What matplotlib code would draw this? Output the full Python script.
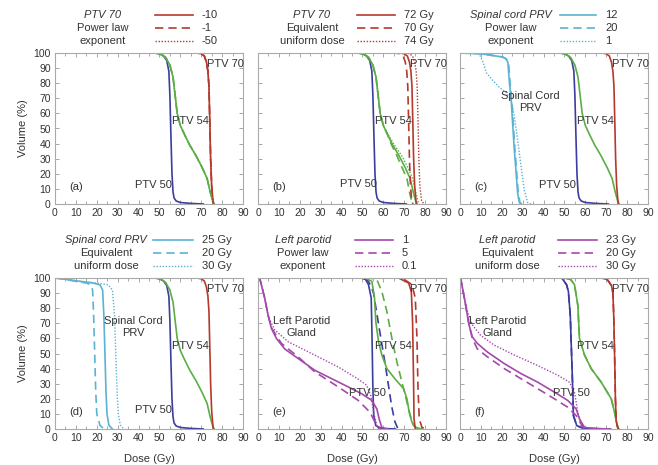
import matplotlib.pyplot as plt
from matplotlib.lines import Line2D

plt.rcParams['font.family'] = ['Liberation Sans', 'DejaVu Sans']

RED = '#b5392c'
GREEN = '#5cad45'
BLUE = '#3b3e9f'
CYAN = '#5ab3d2'
MAGENTA = '#a449ab'
TXT = '#333333'

# ---------------- data (dose in Gy, volume in %) ----------------
# base target curves (panels a-d)
ptv50_dose = [0, 48, 50, 52, 53.5, 54.5, 55, 55.5, 56, 56.5, 57, 58, 60, 65, 71]
ptv50_vol = [100, 100, 99.5, 98, 95, 88, 72, 45, 20, 8, 4, 2, 1, 0.4, 0]

ptv54_dose = [0, 48, 51, 53, 55, 56.5, 57.5, 58.5, 60, 62, 64.5, 67.5, 70.5, 72.8, 74.3, 75.5, 76]
ptv54_vol = [100, 100, 99, 97, 92, 84, 72, 60, 52, 46, 39, 32, 24, 17, 8, 2, 0]

ptv70_dose = [0, 68, 70, 71.5, 72.5, 73.2, 73.7, 74.1, 74.5, 75, 75.6, 76]
ptv70_vol = [100, 100, 99.5, 98, 94, 88, 78, 55, 30, 12, 2, 0]

# panel b: PTV 70 EUD 72 / 70 / 74 Gy
ptv70_b70_dose = [0, 66, 68, 69.5, 70.5, 71.2, 71.7, 72.1, 72.5, 73, 73.6, 74.2]
ptv70_b74_dose = [0, 70.5, 72.5, 74, 75, 75.7, 76.2, 76.6, 77, 77.5, 78.3, 79.5]
ptv54_b70_dose = [0, 48, 51, 53, 55, 56.5, 57.5, 58.5, 60, 62, 64, 66.5, 69, 71.3, 72.5, 73.5, 74.5]
ptv54_b74_dose = [0, 48, 51, 53, 55, 56.5, 57.5, 58.5, 60, 62.3, 65.3, 68.8, 71.8, 74, 75.5, 76.5, 77]

# panel c: spinal cord PRV, power law exponent 12 / 20 / 1
cord_c_vol = [100, 99.5, 98.5, 97.3, 96, 94, 80, 69, 51, 36, 20, 7, 1, 0]
cord_c12_dose = [0, 10, 15, 20.5, 22, 22.9, 23.7, 24.5, 25.3, 26, 26.9, 27.6, 28.4, 29.2]
cord_c20_dose = [0, 10, 15, 20.5, 22.3, 23.2, 24, 24.8, 25.6, 26.3, 27.2, 27.9, 28.7, 29.5]
cord_c1_dose = [0, 9, 11, 12.6, 15.8, 19, 22, 24.5, 26, 27.6, 29.2, 30.8, 32.4, 34]
cord_c1_vol = [100, 100, 94, 87, 81.7, 77, 74, 69, 58, 42.5, 25, 9, 1, 0]

# panel d: spinal cord PRV, EUD 25 / 20 / 30 Gy
cord_d_vol = [100, 99.3, 97.8, 96.7, 95.5, 92, 75, 50, 25, 10, 2.5, 0]
cord_d25_dose = [0, 4, 12, 18, 21.5, 22.8, 23.4, 23.9, 24.4, 24.9, 25.8, 27.5]
cord_d20_dose = [0, 4, 10, 15, 17, 18, 18.5, 19, 19.5, 20, 21.5, 23.5]
cord_d30_dose = [0, 5, 12, 20, 25.5, 27.5, 28.5, 29.1, 29.7, 30.3, 31.3, 33]

# panel e: left parotid, power law exponent 1 / 5 / 0.1
ptv50_e1_dose = [0, 49.5, 51.5, 52.9, 54.2, 54.6, 55, 55.4, 56.4, 59.3, 65.7]
ptv50_e1_vol = [100, 100, 99, 95.6, 86.7, 60, 26.7, 8.9, 2.2, 0.4, 0]
ptv50_e5_dose = [0, 50, 52.5, 54, 55.3, 58, 61, 64, 65.5, 67]
ptv50_e5_vol = [100, 100, 98.5, 95, 90, 67, 42, 15, 5, 0]
ptv54_e1_dose = [0, 51.3, 54.5, 55.8, 56.4, 57.7, 59.3, 61.7, 65.7, 69.7, 71.3, 72.4, 73.7, 75.3, 78.5]
ptv54_e1_vol = [100, 100, 97.8, 86.7, 71, 57.8, 49, 40, 33, 26.7, 20, 11, 4.4, 1, 0]
ptv54_e5_dose = [0, 53.5, 56.9, 59.3, 61.7, 64.1, 66.5, 68.9, 71.3, 72.9, 74.5, 76.9]
ptv54_e5_vol = [100, 100, 98.9, 91, 77.8, 60, 44.4, 31, 17.8, 8.9, 2.2, 0]
ptv70_e1_dose = [0, 67.3, 72.1, 73.4, 74, 74.4, 74.7, 75.3]
ptv70_e1_vol = [100, 100, 96.7, 91, 71, 38, 6.7, 0]
ptv70_e5_dose = [0, 69, 73.7, 75.3, 76.1, 76.6, 77.2, 78.5, 80.9]
ptv70_e5_vol = [100, 100, 95.6, 86.7, 60, 26.7, 6.7, 1, 0]
parotid_e1_dose = [0, 0.8, 3.2, 4.8, 6.4, 8.8, 12.8, 19.2, 27.2, 35.3, 43.3, 49.7, 54.5, 56.9, 58, 59.3, 62]
parotid_e1_vol = [100, 100, 86.7, 75.6, 66.7, 60, 53, 46.7, 38.9, 33.3, 27.8, 23.3, 18.9, 13.3, 6.7, 1, 0]
parotid_e5_dose = [0, 0.8, 3.2, 4.8, 6.4, 11.2, 19.2, 27.2, 38.5, 48, 53.7, 56, 57.7, 59]
parotid_e5_vol = [100, 100, 86.7, 75.6, 67, 56.7, 47.8, 37.8, 27.8, 18.9, 11, 4.4, 0.5, 0]
parotid_e01_dose = [0, 0.8, 3, 5, 8, 14.4, 27.2, 38.5, 48, 52, 54, 55.5, 57, 58.5]
parotid_e01_vol = [100, 100, 88, 74, 65.6, 57.8, 48.9, 41, 33, 29, 22, 10, 2, 0]

# panel f: left parotid, EUD 23 / 20 / 30 Gy
ptv50_f_dose = [0, 48.7, 51, 51.9, 52.8, 53.4, 54, 54.3, 55.9, 59, 65, 72]
ptv50_f_vol = [100, 100, 95.6, 91, 75, 50, 25, 8.9, 2.2, 0.5, 0.2, 0]
ptv54_f_dose = [0, 50, 53, 54.8, 56.4, 57.2, 59.6, 62.8, 67.6, 72.4, 74, 75.3, 75.8]
ptv54_f_vol = [100, 100, 99, 95.6, 82, 60, 49, 40, 31, 20, 11, 2.2, 0]
ptv70_f_dose = [0, 67.6, 70.5, 72.5, 73.2, 73.6, 74, 74.4, 74.8, 75.5, 76]
ptv70_f_vol = [100, 100, 99, 95, 90, 75, 50, 20, 5, 1, 0]
parotid_f23_dose = [0, 0.3, 2.7, 4.3, 5.9, 8.3, 13.1, 21.2, 29.2, 37.2, 45.2, 51.6, 55.6, 57.2, 59.6, 65, 72]
parotid_f23_vol = [100, 100, 82, 69, 61, 56.7, 51, 43.3, 36.7, 31, 24.4, 18.9, 13.3, 6.7, 1, 0.3, 0]
parotid_f20_dose = [0, 0.3, 2.7, 4.3, 5.9, 8.3, 13.1, 21.2, 29.2, 37.2, 45.2, 51.6, 55.6, 58, 59.6]
parotid_f20_vol = [100, 100, 82, 69, 60, 53, 47.8, 40, 33.3, 26.7, 20, 14.4, 8.9, 3.3, 0]
parotid_f30_dose = [0, 0.3, 2, 3.5, 5.9, 9.9, 16.3, 26, 37.2, 46.8, 52.4, 54.8, 56.4, 58, 59.6]
parotid_f30_vol = [100, 100, 88, 78, 69, 62, 55.6, 49, 42, 35.6, 31, 24.4, 11, 2.2, 0]

# legend texts
keys = {
    'a': (['PTV 70', 'Power law', 'exponent'], ['-10', '-1', '-50'], RED),
    'b': (['PTV 70', 'Equivalent', 'uniform dose'], ['72 Gy', '70 Gy', '74 Gy'], RED),
    'c': (['Spinal cord PRV', 'Power law', 'exponent'], ['12', '20', '1'], CYAN),
    'd': (['Spinal cord PRV', 'Equivalent', 'uniform dose'], ['25 Gy', '20 Gy', '30 Gy'], CYAN),
    'e': (['Left parotid', 'Power law', 'exponent'], ['1', '5', '0.1'], MAGENTA),
    'f': (['Left parotid', 'Equivalent', 'uniform dose'], ['23 Gy', '20 Gy', '30 Gy'], MAGENTA),
}

SOLID = dict(ls='-', lw=1.2)
DASH = dict(ls=(0, (5, 3)), lw=1.2)
DOT = dict(ls=(0, (1, 1.2)), lw=1.0)

W, H = 658, 465
fig = plt.figure(figsize=(W / 100, H / 100), dpi=100)

# pixel layout: axes left edges, row tops, key positions
col_left = [55, 258, 460]
row_top = [53, 278]
AX_W, AX_H = 188, 151
key_text_x = {'a': 103, 'b': 312, 'c': 511, 'd': 106, 'e': 303, 'f': 507}
key_line_x = {'a': (155, 193), 'b': (357, 395), 'c': (560, 596),
              'd': (153, 193), 'e': (355, 393), 'f': (558, 597)}
key_row_y = [[15, 28, 41], [240, 253, 266]]

panels = ['a', 'b', 'c', 'd', 'e', 'f']
axes = {}
for i, p in enumerate(panels):
    r, c = divmod(i, 3)
    ax = fig.add_axes([col_left[c] / W, 1 - (row_top[r] + AX_H) / H, AX_W / W, AX_H / H])
    ax.set_xlim(0, 90)
    ax.set_ylim(0, 100)
    ax.set_xticks(range(0, 91, 10))
    ax.set_xticks(range(5, 90, 10), minor=True)
    ax.set_yticks(range(0, 101, 10))
    ax.tick_params(which='both', direction='in', top=True, right=True, color='#999999',
                   labelsize=7.5, labelcolor=TXT, pad=3)
    ax.tick_params(which='major', length=3, width=0.6)
    ax.tick_params(which='minor', length=2, width=0.6)
    for s in ax.spines.values():
        s.set_color('#aaaaaa')
        s.set_linewidth(0.8)
    if c != 0:
        ax.tick_params(labelleft=False)
    else:
        ax.set_ylabel('Volume (%)', fontsize=8, color=TXT, labelpad=4)
    if r == 1:
        ax.set_xlabel('Dose (Gy)', fontsize=8, color=TXT, labelpad=8)
    axes[p] = ax

    # key above panel
    title_lines, labels, col = keys[p]
    ys = key_row_y[r]
    for j, t in enumerate(title_lines):
        fig.text(key_text_x[p] / W, 1 - ys[j] / H, t, ha='center', va='center',
                 fontsize=8, color=TXT, style='italic' if j == 0 else 'normal')
    x0, x1 = key_line_x[p]
    for j, (sty, lab) in enumerate(zip([SOLID, DASH, DOT], labels)):
        fig.add_artist(Line2D([x0 / W, x1 / W], [1 - ys[j] / H] * 2, color=col,
                              transform=fig.transFigure, **sty))
        fig.text((x1 + 9) / W, 1 - ys[j] / H, lab, ha='left', va='center',
                 fontsize=8, color=TXT)


def curve(ax, x, y, col, sty):
    ax.plot(x, y, color=col, **sty)


def label(ax, x, y, s):
    ax.text(x, y, s, ha='center', va='center', fontsize=8, color=TXT, linespacing=1.3)


# (a)
ax = axes['a']
curve(ax, ptv50_dose, ptv50_vol, BLUE, SOLID)
for sty in (SOLID, DASH, DOT):
    curve(ax, ptv54_dose, ptv54_vol, GREEN, sty)
    curve(ax, ptv70_dose, ptv70_vol, RED, sty)

# (b)
ax = axes['b']
curve(ax, ptv50_dose, ptv50_vol, BLUE, SOLID)
curve(ax, ptv54_dose, ptv54_vol, GREEN, SOLID)
curve(ax, ptv54_b70_dose, ptv54_vol, GREEN, DASH)
curve(ax, ptv54_b74_dose, ptv54_vol, GREEN, DOT)
curve(ax, ptv70_dose, ptv70_vol, RED, SOLID)
curve(ax, ptv70_b70_dose, ptv70_vol, RED, DASH)
curve(ax, ptv70_b74_dose, ptv70_vol, RED, DOT)

# (c)
ax = axes['c']
curve(ax, cord_c12_dose, cord_c_vol, CYAN, SOLID)
curve(ax, cord_c20_dose, cord_c_vol, CYAN, DASH)
curve(ax, cord_c1_dose, cord_c1_vol, CYAN, DOT)
curve(ax, ptv50_dose, ptv50_vol, BLUE, SOLID)
curve(ax, ptv54_dose, ptv54_vol, GREEN, SOLID)
curve(ax, ptv70_dose, ptv70_vol, RED, SOLID)

# (d)
ax = axes['d']
curve(ax, cord_d25_dose, cord_d_vol, CYAN, SOLID)
curve(ax, cord_d20_dose, cord_d_vol, CYAN, DASH)
curve(ax, cord_d30_dose, cord_d_vol, CYAN, DOT)
curve(ax, ptv50_dose, ptv50_vol, BLUE, SOLID)
curve(ax, ptv54_dose, ptv54_vol, GREEN, SOLID)
curve(ax, ptv70_dose, ptv70_vol, RED, SOLID)

# (e)
ax = axes['e']
curve(ax, ptv50_e1_dose, ptv50_e1_vol, BLUE, SOLID)
curve(ax, ptv50_e5_dose, ptv50_e5_vol, BLUE, DASH)
curve(ax, ptv54_e1_dose, ptv54_e1_vol, GREEN, SOLID)
curve(ax, ptv54_e5_dose, ptv54_e5_vol, GREEN, DASH)
curve(ax, ptv70_e1_dose, ptv70_e1_vol, RED, SOLID)
curve(ax, ptv70_e5_dose, ptv70_e5_vol, RED, DASH)
curve(ax, parotid_e1_dose, parotid_e1_vol, MAGENTA, SOLID)
curve(ax, parotid_e5_dose, parotid_e5_vol, MAGENTA, DASH)
curve(ax, parotid_e01_dose, parotid_e01_vol, MAGENTA, DOT)

# (f)
ax = axes['f']
for sty in (SOLID, DASH):
    curve(ax, ptv50_f_dose, ptv50_f_vol, BLUE, sty)
    curve(ax, ptv54_f_dose, ptv54_f_vol, GREEN, sty)
    curve(ax, ptv70_f_dose, ptv70_f_vol, RED, sty)
curve(ax, parotid_f23_dose, parotid_f23_vol, MAGENTA, SOLID)
curve(ax, parotid_f20_dose, parotid_f20_vol, MAGENTA, DASH)
curve(ax, parotid_f30_dose, parotid_f30_vol, MAGENTA, DOT)

# in-plot labels
for p in panels:
    ax = axes[p]
    label(ax, 81.5, 93, 'PTV 70')
    label(ax, 65, 55, 'PTV 54')
label(axes['a'], 47, 12.5, 'PTV 50')
label(axes['b'], 48, 13, 'PTV 50')
label(axes['c'], 46.5, 12.5, 'PTV 50')
label(axes['d'], 47, 12.5, 'PTV 50')
label(axes['e'], 52.5, 24, 'PTV 50')
label(axes['f'], 53.5, 24, 'PTV 50')
label(axes['c'], 33.5, 67.5, 'Spinal Cord\nPRV')
label(axes['d'], 37.5, 67.5, 'Spinal Cord\nPRV')
label(axes['e'], 21, 67.5, 'Left Parotid\nGland')
label(axes['f'], 18, 67.5, 'Left Parotid\nGland')
for p in panels:
    axes[p].text(7, 11, '(%s)' % p, ha='left', va='center', fontsize=8, color=TXT)

fig.savefig('out.png', dpi=100)
